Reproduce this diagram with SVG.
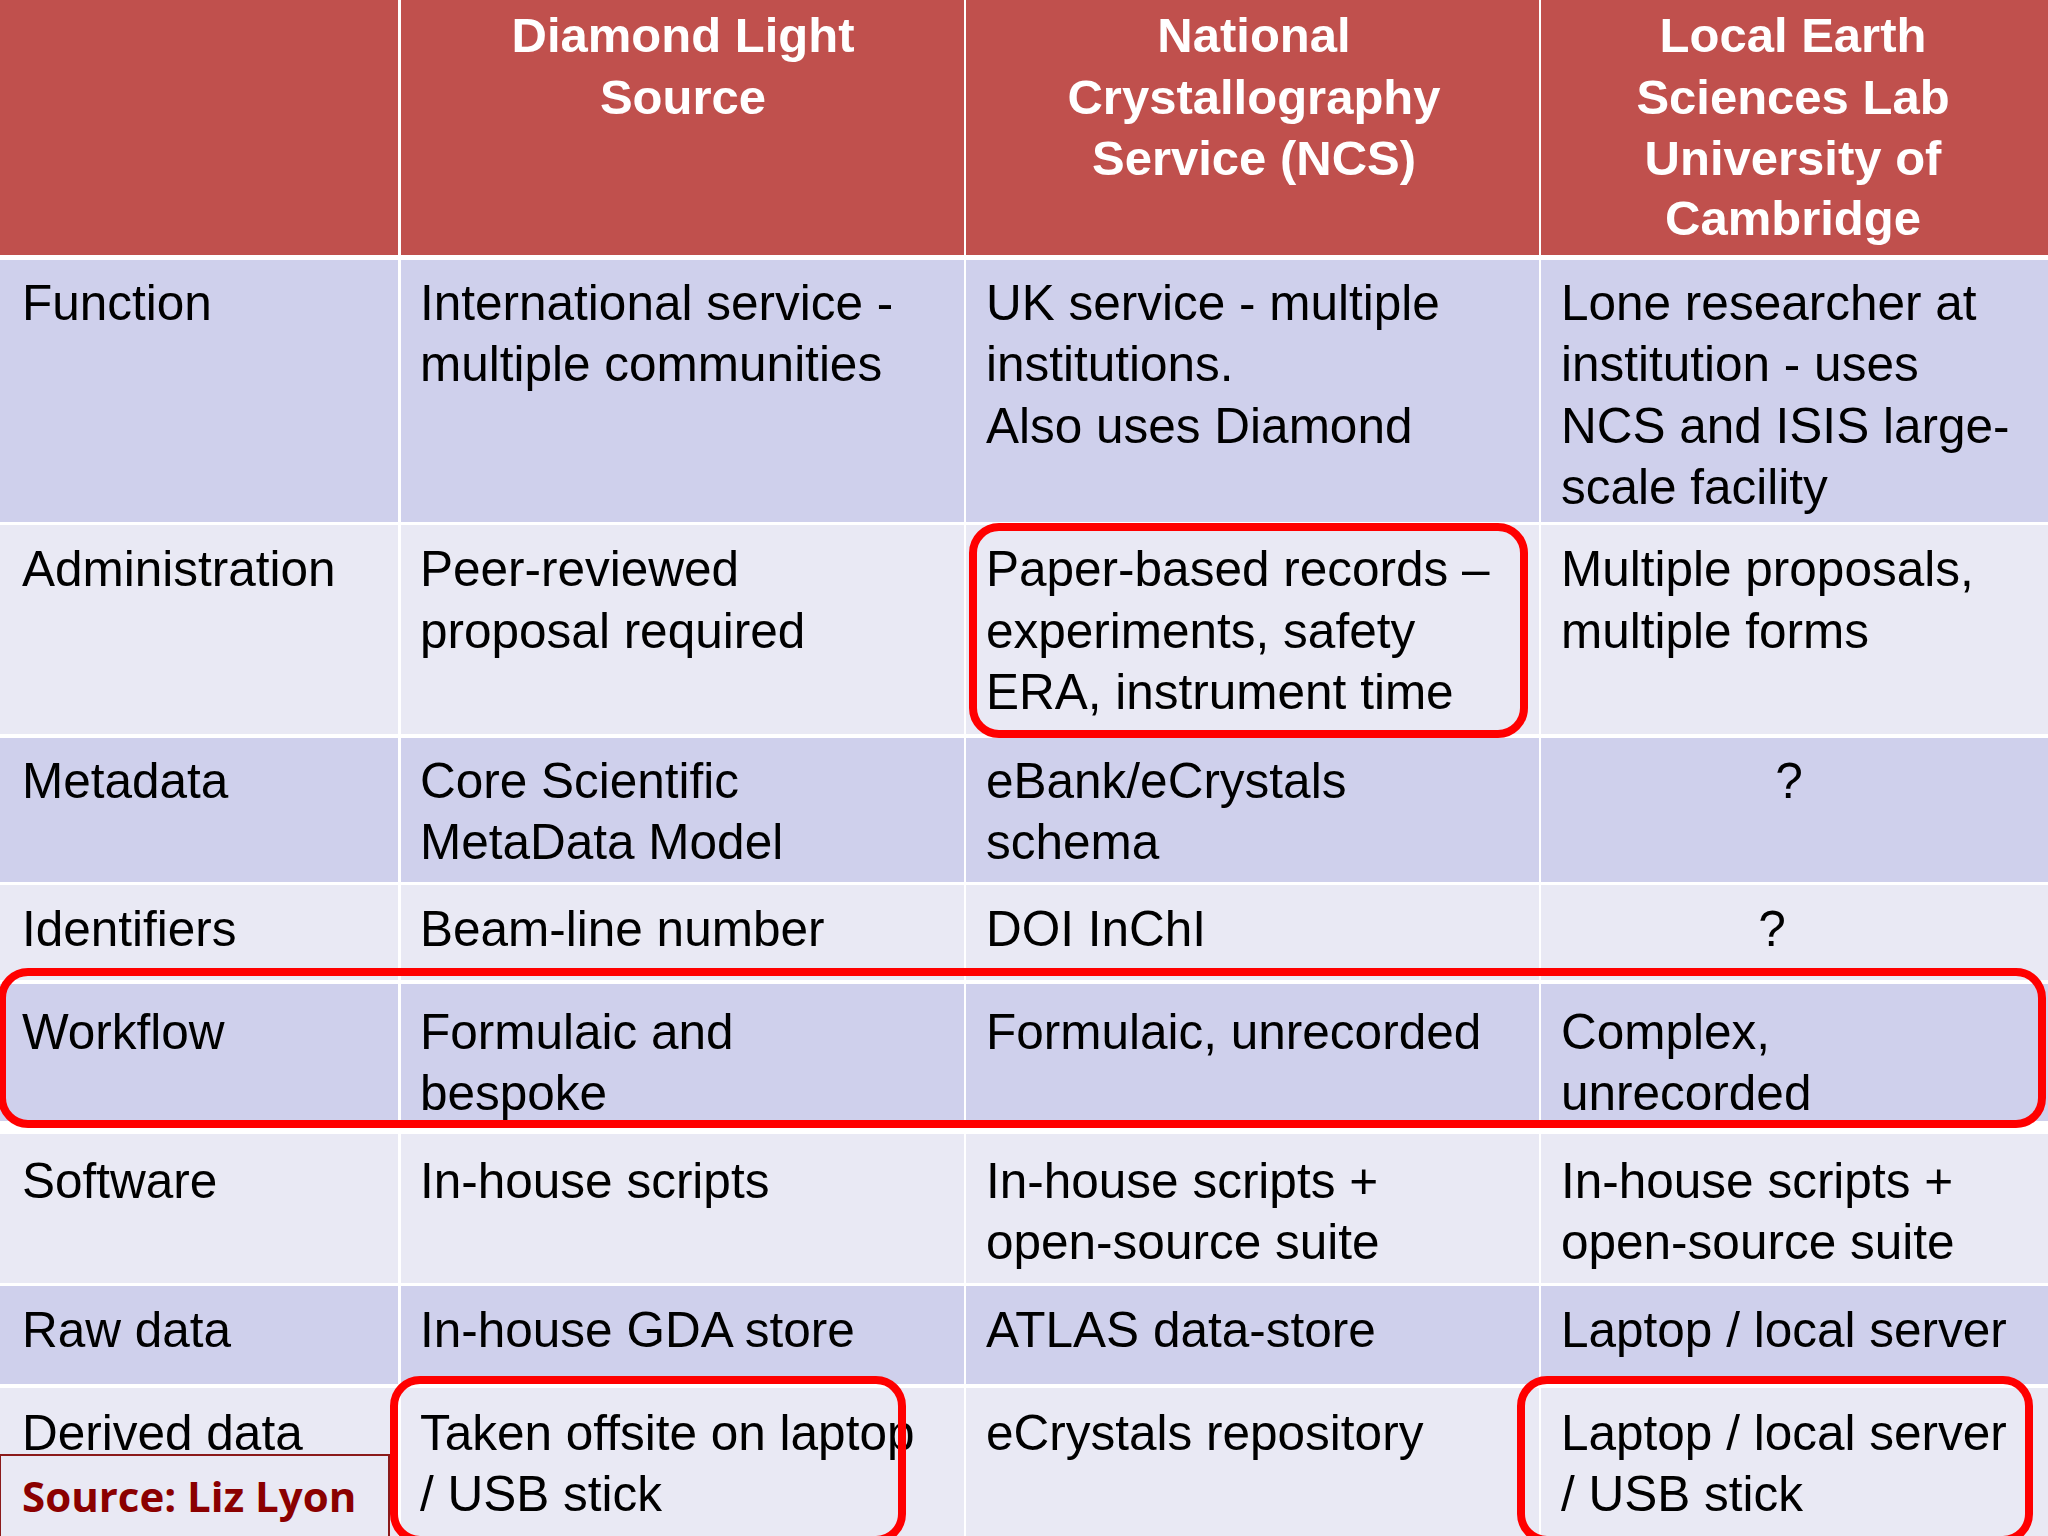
<svg xmlns="http://www.w3.org/2000/svg" width="2048" height="1536" viewBox="0 0 2048 1536">
<style>
.h{font-family:"Liberation Sans",Arial,sans-serif;font-weight:bold;font-size:49px;fill:#fff;text-anchor:middle}
.t{font-family:"Liberation Sans",Arial,sans-serif;font-size:49.5px;fill:#000}
.d{fill:#cfd0ec}.l{fill:#e9e9f4}
.r{fill:none;stroke:#f00;stroke-width:8}
</style>
<rect width="2048" height="1536" fill="#fff"/>
<g id="header">
<rect x="0" y="0" width="398" height="255" fill="#c0504d"/>
<rect x="401" y="0" width="563" height="255" fill="#c0504d"/>
<rect x="966" y="0" width="573" height="255" fill="#c0504d"/>
<rect x="1541" y="0" width="507" height="255" fill="#c0504d"/>
<text class="h" x="683" y="52">Diamond Light</text><text class="h" x="683" y="114">Source</text>
<text class="h" x="1254" y="52">National</text><text class="h" x="1254" y="114">Crystallography</text><text class="h" x="1254" y="175">Service (NCS)</text>
<text class="h" x="1793" y="52">Local Earth</text><text class="h" x="1793" y="114">Sciences Lab</text><text class="h" x="1793" y="175">University of</text><text class="h" x="1793" y="235">Cambridge</text>
</g>
<g id="rows">
<g class="d"><rect x="0" y="260" width="398" height="262"/><rect x="401" y="260" width="563" height="262"/><rect x="966" y="260" width="573" height="262"/><rect x="1541" y="260" width="507" height="262"/></g>
<g class="l"><rect x="0" y="525" width="398" height="209"/><rect x="401" y="525" width="563" height="209"/><rect x="966" y="525" width="573" height="209"/><rect x="1541" y="525" width="507" height="209"/></g>
<g class="d"><rect x="0" y="738" width="398" height="144"/><rect x="401" y="738" width="563" height="144"/><rect x="966" y="738" width="573" height="144"/><rect x="1541" y="738" width="507" height="144"/></g>
<g class="l"><rect x="0" y="885" width="398" height="95"/><rect x="401" y="885" width="563" height="95"/><rect x="966" y="885" width="573" height="95"/><rect x="1541" y="885" width="507" height="95"/></g>
<g class="d"><rect x="0" y="984" width="398" height="137"/><rect x="401" y="984" width="563" height="137"/><rect x="966" y="984" width="573" height="137"/><rect x="1541" y="984" width="507" height="137"/></g>
<g class="l"><rect x="0" y="1134" width="398" height="149"/><rect x="401" y="1134" width="563" height="149"/><rect x="966" y="1134" width="573" height="149"/><rect x="1541" y="1134" width="507" height="149"/></g>
<g class="d"><rect x="0" y="1286" width="398" height="98"/><rect x="401" y="1286" width="563" height="98"/><rect x="966" y="1286" width="573" height="98"/><rect x="1541" y="1286" width="507" height="98"/></g>
<g class="l"><rect x="0" y="1388" width="398" height="148"/><rect x="401" y="1388" width="563" height="148"/><rect x="966" y="1388" width="573" height="148"/><rect x="1541" y="1388" width="507" height="148"/></g>
</g>
<g id="text" xml:space="preserve">
<text class="t" x="22" y="320">Function</text>
<text class="t" x="420" y="320">International service -</text><text class="t" x="420" y="381">multiple communities</text>
<text class="t" x="986" y="320">UK service - multiple</text><text class="t" x="986" y="381">institutions.</text><text class="t" x="986" y="443">Also uses Diamond</text>
<text class="t" x="1561" y="320">Lone researcher at</text><text class="t" x="1561" y="381">institution - uses</text><text class="t" x="1561" y="443">NCS and ISIS large-</text><text class="t" x="1561" y="504">scale facility</text>
<text class="t" x="22" y="586">Administration</text>
<text class="t" x="420" y="586">Peer-reviewed</text><text class="t" x="420" y="648">proposal required</text>
<text class="t" x="986" y="586">Paper-based records –</text><text class="t" x="986" y="648">experiments, safety</text><text class="t" x="986" y="709">ERA,  instrument time</text>
<text class="t" x="1561" y="586">Multiple proposals,</text><text class="t" x="1561" y="648">multiple forms</text>
<text class="t" x="22" y="798">Metadata</text>
<text class="t" x="420" y="798">Core Scientific</text><text class="t" x="420" y="859">MetaData Model</text>
<text class="t" x="986" y="798">eBank/eCrystals</text><text class="t" x="986" y="859">schema</text>
<text class="t" x="1789" y="798" text-anchor="middle">?</text>
<text class="t" x="22" y="946">Identifiers</text>
<text class="t" x="420" y="946">Beam-line number</text>
<text class="t" x="986" y="946">DOI  InChI</text>
<text class="t" x="1772" y="946" text-anchor="middle">?</text>
<text class="t" x="22" y="1049">Workflow</text>
<text class="t" x="420" y="1049">Formulaic and</text><text class="t" x="420" y="1110">bespoke</text>
<text class="t" x="986" y="1049">Formulaic, unrecorded</text>
<text class="t" x="1561" y="1049">Complex,</text><text class="t" x="1561" y="1110">unrecorded</text>
<text class="t" x="22" y="1198">Software</text>
<text class="t" x="420" y="1198">In-house scripts</text>
<text class="t" x="986" y="1198">In-house scripts +</text><text class="t" x="986" y="1259">open-source suite</text>
<text class="t" x="1561" y="1198">In-house scripts +</text><text class="t" x="1561" y="1259">open-source suite</text>
<text class="t" x="22" y="1347">Raw data</text>
<text class="t" x="420" y="1347">In-house GDA store</text>
<text class="t" x="986" y="1347">ATLAS data-store</text>
<text class="t" x="1561" y="1347">Laptop / local server</text>
<text class="t" x="22" y="1450">Derived data</text>
<text class="t" x="420" y="1450">Taken offsite on laptop</text><text class="t" x="420" y="1511">/ USB stick</text>
<text class="t" x="986" y="1450">eCrystals repository</text>
<text class="t" x="1561" y="1450">Laptop / local server</text><text class="t" x="1561" y="1511">/ USB stick</text>
</g>
<g id="source">
<rect x="0" y="1455" width="389" height="85" fill="#e9e9f4" stroke="#8b1a1a" stroke-width="2"/>
<text x="22" y="1512" font-family="'Open Sans',Lato,sans-serif" font-weight="bold" font-size="42" fill="#8b0000">Source: Liz Lyon</text>
</g>
<g id="highlights">
<rect class="r" x="973" y="527" width="551" height="207" rx="26"/>
<rect class="r" x="2" y="972" width="2040" height="152" rx="26"/>
<rect class="r" x="394" y="1380" width="508" height="160" rx="26"/>
<rect class="r" x="1521" y="1380" width="508" height="160" rx="26"/>
</g>
</svg>
